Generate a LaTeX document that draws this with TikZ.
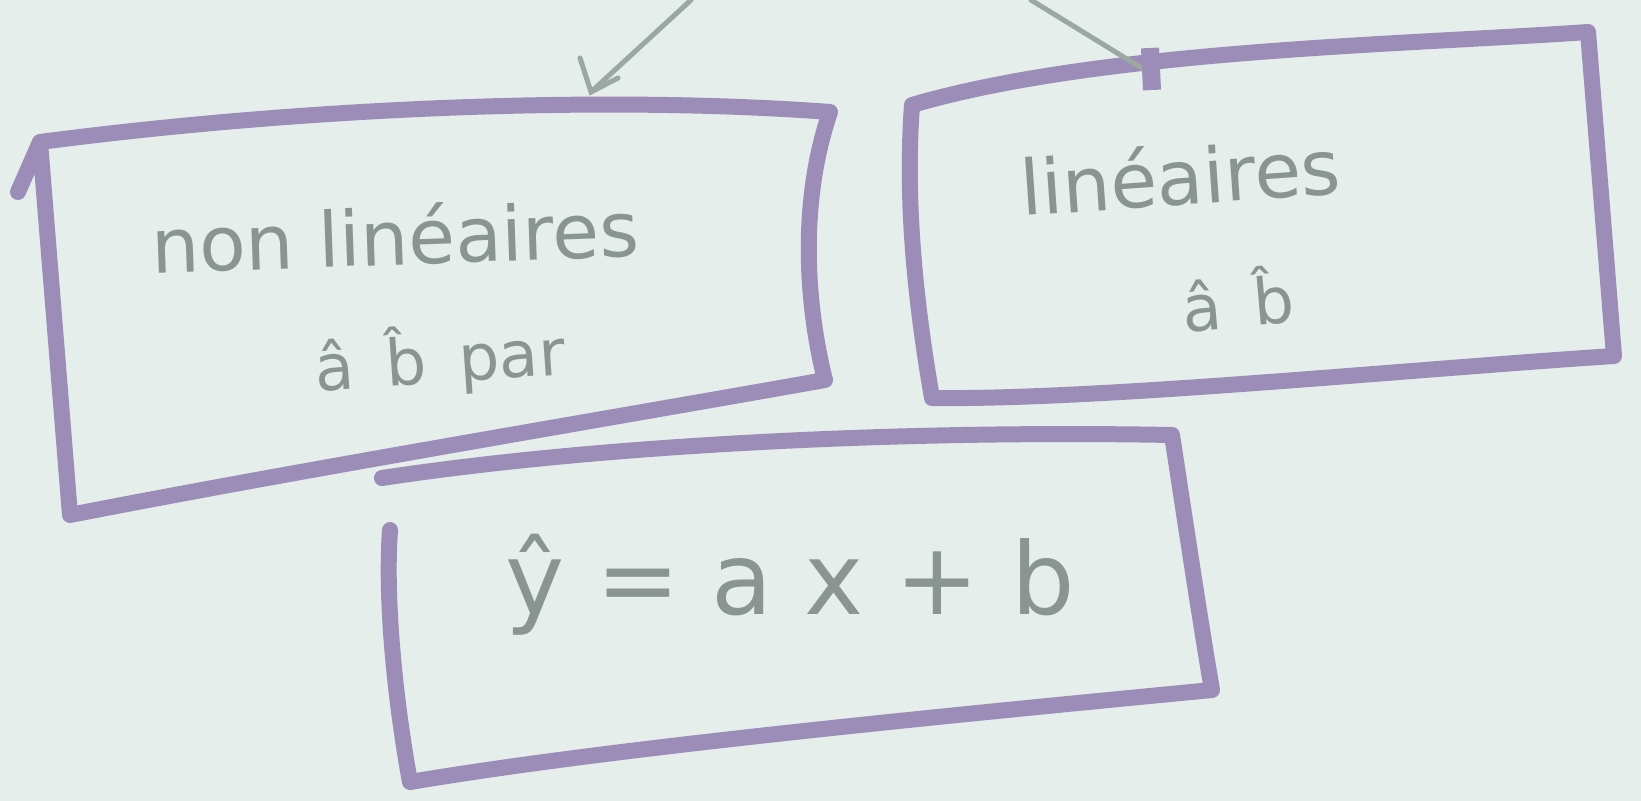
\documentclass[tikz,border=0pt]{standalone}
\usepackage{fontspec}
\setmainfont{DejaVu Sans}
\begin{document}
\begin{tikzpicture}[x=0.5pt,y=-0.5pt,
  boxline/.style={draw=boxpurple,line width=8pt,line join=round,line cap=round},
  hand/.style={text=inkgrey,inner sep=0pt,font=\fontsize{38}{42}\selectfont},
  small/.style={hand,font=\fontsize{32}{36}\selectfont},
  conn/.style={draw=inkgreen,line width=2.5pt,line cap=round}]
\definecolor{boxpurple}{HTML}{9C8DB8}
\definecolor{inkgrey}{HTML}{8A9490}
\definecolor{inkgreen}{HTML}{9AA8A2}
\definecolor{bg}{HTML}{E5EEEA}
\useasboundingbox (0,0) rectangle (1641,801);
\fill[bg] (0,0) rectangle (1641,801);
% left box
\coordinate (L1) at (40,142);
\coordinate (L2) at (830,112);
\coordinate (L3) at (825,380);
\coordinate (L4) at (70,515);
\draw[boxline] (18,192) -- (L1) .. controls (300,108) and (600,95) .. (L2)
  .. controls (800,200) and (805,300) .. (L3)
  .. controls (600,420) and (300,470) .. (L4) -- (L1);
% right box
\coordinate (R1) at (912,105);
\coordinate (R2) at (1588,32);
\coordinate (R3) at (1614,356);
\coordinate (R4) at (932,398);
\draw[boxline] (R1) .. controls (1100,50) and (1400,45) .. (R2)
  -- (R3) .. controls (1400,370) and (1100,400) .. (R4)
  .. controls (915,300) and (905,200) .. (R1);
% bottom box
\coordinate (B1) at (382,478);
\coordinate (B2) at (1172,435);
\coordinate (B3) at (1212,690);
\coordinate (B4) at (410,782);
\draw[boxline] (B1) .. controls (600,445) and (900,430) .. (B2)
  .. controls (1185,520) and (1200,620) .. (B3)
  .. controls (900,720) and (600,750) .. (B4)
  .. controls (395,700) and (385,600) .. (390,530);
% connectors
\coordinate (a1) at (691,0);
\coordinate (a1e) at (591,92);
\coordinate (a2) at (1031,0);
\coordinate (a2e) at (1148,72);
\draw[conn] (a1) -- (a1e);
\draw[conn] (580,58) -- (a1e) -- (618,78);
\draw[conn] (a2) -- (a2e);
\draw[boxpurple,line width=9pt] (1150,48) -- (1152,90);
% texts
\node[hand,rotate=2] (t1) at (395,235) {non linéaires};
\node[small,rotate=4] (t2) at (440,360) {â\enspace b̂\enspace par};
\node[hand,rotate=4] (t3) at (1180,175) {linéaires};
\node[small,rotate=5] (t4) at (1238,298) {â\enspace b̂};
\node[hand,font=\fontsize{50}{54}\selectfont] (t5) at (790,585) {ŷ = a x + b};
\end{tikzpicture}
\end{document}
